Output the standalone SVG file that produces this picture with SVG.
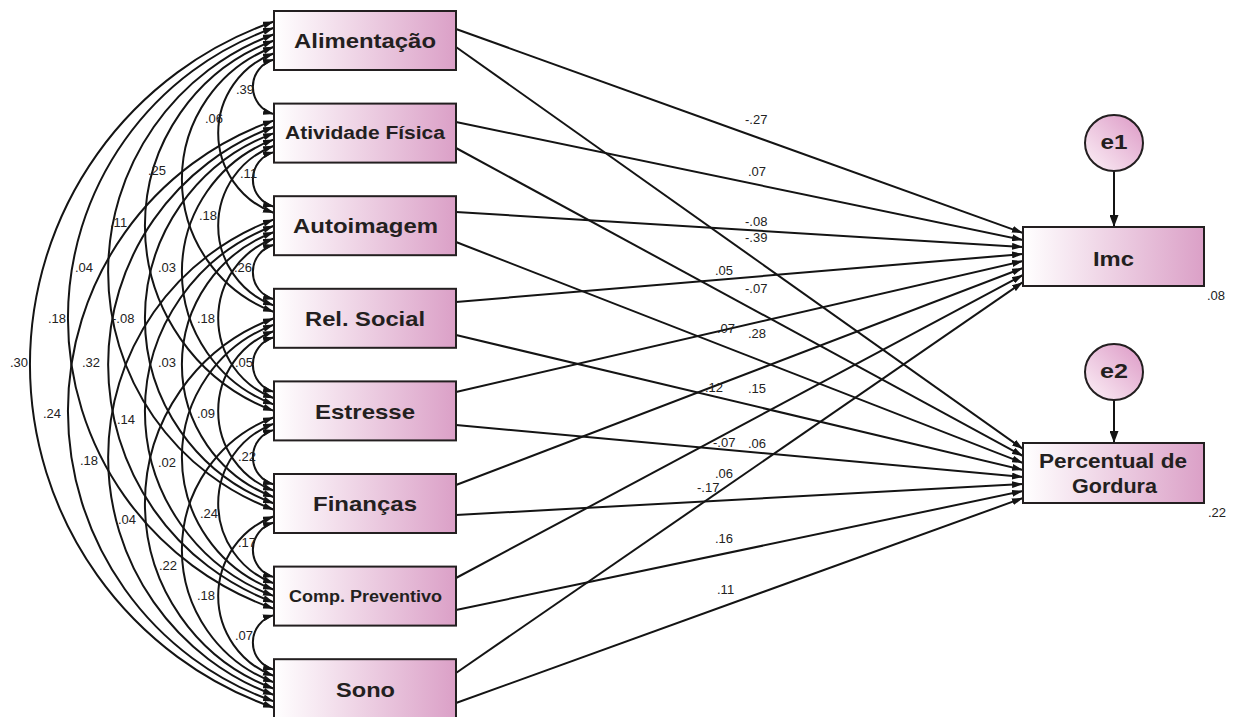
<svg xmlns="http://www.w3.org/2000/svg" width="1240" height="717" viewBox="0 0 1240 717">
<defs>
<linearGradient id="boxg" x1="0" y1="0" x2="1" y2="0">
<stop offset="0" stop-color="#ffffff"/>
<stop offset="1" stop-color="#dba0c7"/>
</linearGradient>
<linearGradient id="elg" x1="1" y1="0" x2="0" y2="1">
<stop offset="0" stop-color="#dc98c5"/>
<stop offset="1" stop-color="#fcf1f7"/>
</linearGradient>
<marker id="ah" viewBox="0 0 11 7" refX="11" refY="3.5" markerWidth="11" markerHeight="7" markerUnits="userSpaceOnUse" orient="auto-start-reverse">
<path d="M0,0 L11,3.5 L0,7 z" fill="#141414"/>
</marker>
<marker id="ah2" viewBox="0 0 12 9" refX="12" refY="4.5" markerWidth="12" markerHeight="9" markerUnits="userSpaceOnUse" orient="auto">
<path d="M0,0 L12,4.5 L0,9 z" fill="#141414"/>
</marker>
<style>
.box{fill:url(#boxg);stroke:#231f20;stroke-width:2}
.el{fill:url(#elg);stroke:#231f20;stroke-width:2}
.lbl{font-family:"Liberation Sans",Arial,sans-serif;font-weight:bold;fill:#231f20;text-anchor:middle}
.cov{fill:none;stroke:#141414;stroke-width:2;marker-start:url(#ah);marker-end:url(#ah)}
.pth{fill:none;stroke:#141414;stroke-width:2;marker-end:url(#ah)}
.num{font-family:"Liberation Sans",Arial,sans-serif;font-size:13px;fill:#222}
</style>
</defs>
<rect width="1240" height="717" fill="#ffffff"/>
<g id="connectors">
<path class="cov" d="M274 59.5 A28.2 28.2 0 0 0 274 114.1"/>
<path class="cov" d="M274 152.1 A28.2 28.2 0 0 0 274 206.7"/>
<path class="cov" d="M274 244.7 A28.2 28.2 0 0 0 274 299.3"/>
<path class="cov" d="M274 337.3 A28.2 28.2 0 0 0 274 391.9"/>
<path class="cov" d="M274 429.9 A28.2 28.2 0 0 0 274 484.5"/>
<path class="cov" d="M274 522.5 A28.2 28.2 0 0 0 274 577.1"/>
<path class="cov" d="M274 615.1 A28.2 28.2 0 0 0 274 669.7"/>
<path class="cov" d="M274 53.2 A85.1 85.1 0 0 0 274 213"/>
<path class="cov" d="M274 145.8 A85.1 85.1 0 0 0 274 305.6"/>
<path class="cov" d="M274 238.4 A85.1 85.1 0 0 0 274 398.2"/>
<path class="cov" d="M274 331 A85.1 85.1 0 0 0 274 490.8"/>
<path class="cov" d="M274 423.6 A85.1 85.1 0 0 0 274 583.4"/>
<path class="cov" d="M274 516.2 A85.1 85.1 0 0 0 274 676"/>
<path class="cov" d="M274 46.8 A141.5 141.5 0 0 0 274 312"/>
<path class="cov" d="M274 139.4 A141.5 141.5 0 0 0 274 404.6"/>
<path class="cov" d="M274 232 A141.5 141.5 0 0 0 274 497.2"/>
<path class="cov" d="M274 324.6 A141.5 141.5 0 0 0 274 589.8"/>
<path class="cov" d="M274 417.2 A141.5 141.5 0 0 0 274 682.4"/>
<path class="cov" d="M274 40.5 A197.4 197.4 0 0 0 274 410.9"/>
<path class="cov" d="M274 133.1 A197.4 197.4 0 0 0 274 503.5"/>
<path class="cov" d="M274 225.7 A197.4 197.4 0 0 0 274 596.1"/>
<path class="cov" d="M274 318.3 A197.4 197.4 0 0 0 274 688.7"/>
<path class="cov" d="M274 34.2 A253.4 253.4 0 0 0 274 509.8"/>
<path class="cov" d="M274 126.8 A253.4 253.4 0 0 0 274 602.4"/>
<path class="cov" d="M274 219.4 A253.4 253.4 0 0 0 274 695"/>
<path class="cov" d="M274 27.8 A307.8 307.8 0 0 0 274 608.8"/>
<path class="cov" d="M274 120.4 A307.8 307.8 0 0 0 274 701.4"/>
<path class="cov" d="M274 21.5 A363.2 363.2 0 0 0 274 707.7"/>
<line class="pth" x1="456" y1="29" x2="1023" y2="233"/>
<line class="pth" x1="456" y1="47" x2="1023" y2="449"/>
<line class="pth" x1="456" y1="122" x2="1023" y2="240"/>
<line class="pth" x1="456" y1="148" x2="1023" y2="456"/>
<line class="pth" x1="456" y1="212" x2="1023" y2="247"/>
<line class="pth" x1="456" y1="242" x2="1023" y2="463"/>
<line class="pth" x1="456" y1="302" x2="1023" y2="254"/>
<line class="pth" x1="456" y1="335" x2="1023" y2="470"/>
<line class="pth" x1="456" y1="392" x2="1023" y2="261"/>
<line class="pth" x1="456" y1="425" x2="1023" y2="477"/>
<line class="pth" x1="456" y1="485" x2="1023" y2="268"/>
<line class="pth" x1="456" y1="515" x2="1023" y2="484"/>
<line class="pth" x1="456" y1="578" x2="1023" y2="275"/>
<line class="pth" x1="456" y1="610" x2="1023" y2="491"/>
<line class="pth" x1="456" y1="673" x2="1023" y2="282"/>
<line class="pth" x1="456" y1="703" x2="1023" y2="498"/>
<line x1="1114" y1="171" x2="1114" y2="227" stroke="#141414" stroke-width="2" marker-end="url(#ah2)"/>
<line x1="1114" y1="400" x2="1114" y2="443" stroke="#141414" stroke-width="2" marker-end="url(#ah2)"/>
<text class="num" x="236" y="94">.39</text>
<text class="num" x="205" y="123">.06</text>
<text class="num" x="148" y="175">.25</text>
<text class="num" x="240" y="178">.11</text>
<text class="num" x="199" y="220">.18</text>
<text class="num" x="110" y="227">.11</text>
<text class="num" x="75" y="272">.04</text>
<text class="num" x="158" y="272">.03</text>
<text class="num" x="234" y="272">.26</text>
<text class="num" x="48" y="323">.18</text>
<text class="num" x="112" y="323">-.08</text>
<text class="num" x="197" y="323">.18</text>
<text class="num" x="10" y="367">.30</text>
<text class="num" x="82" y="367">.32</text>
<text class="num" x="158" y="367">.03</text>
<text class="num" x="235" y="367">.05</text>
<text class="num" x="43" y="418">.24</text>
<text class="num" x="117" y="424">.14</text>
<text class="num" x="197" y="418">.09</text>
<text class="num" x="80" y="465">.18</text>
<text class="num" x="158" y="467">.02</text>
<text class="num" x="238" y="461">.22</text>
<text class="num" x="118" y="524">.04</text>
<text class="num" x="200" y="518">.24</text>
<text class="num" x="238" y="547">.17</text>
<text class="num" x="159" y="570">.22</text>
<text class="num" x="197" y="600">.18</text>
<text class="num" x="235" y="640">.07</text>
<text class="num" x="745" y="124">-.27</text>
<text class="num" x="748" y="176">.07</text>
<text class="num" x="745" y="226">-.08</text>
<text class="num" x="745" y="242">-.39</text>
<text class="num" x="715" y="275">.05</text>
<text class="num" x="745" y="293">-.07</text>
<text class="num" x="717" y="333">.07</text>
<text class="num" x="748" y="338">.28</text>
<text class="num" x="705" y="392">.12</text>
<text class="num" x="748" y="393">.15</text>
<text class="num" x="713" y="447">-.07</text>
<text class="num" x="748" y="448">.06</text>
<text class="num" x="715" y="478">.06</text>
<text class="num" x="697" y="492">-.17</text>
<text class="num" x="715" y="543">.16</text>
<text class="num" x="717" y="594">.11</text>
<text class="num" x="1207" y="300">.08</text>
<text class="num" x="1208" y="517">.22</text>
</g>
<g id="alimentacao">
<rect class="box" x="274" y="11" width="182" height="59"/>
<text class="lbl" x="365" y="48" font-size="20.5" textLength="142" lengthAdjust="spacingAndGlyphs">Alimentação</text>
</g>
<g id="atividade-fisica">
<rect class="box" x="274" y="103.6" width="182" height="59"/>
<text class="lbl" x="365" y="139" font-size="17.5" textLength="160" lengthAdjust="spacingAndGlyphs">Atividade Física</text>
</g>
<g id="autoimagem">
<rect class="box" x="274" y="196.2" width="182" height="59"/>
<text class="lbl" x="365.5" y="232.5" font-size="20.5" textLength="145" lengthAdjust="spacingAndGlyphs">Autoimagem</text>
</g>
<g id="rel-social">
<rect class="box" x="274" y="288.8" width="182" height="59"/>
<text class="lbl" x="365" y="326" font-size="20.5" textLength="120" lengthAdjust="spacingAndGlyphs">Rel. Social</text>
</g>
<g id="estresse">
<rect class="box" x="274" y="381.4" width="182" height="59"/>
<text class="lbl" x="365" y="419" font-size="20.5" textLength="100" lengthAdjust="spacingAndGlyphs">Estresse</text>
</g>
<g id="financas">
<rect class="box" x="274" y="474" width="182" height="59"/>
<text class="lbl" x="365" y="510.5" font-size="20.5" textLength="104" lengthAdjust="spacingAndGlyphs">Finanças</text>
</g>
<g id="comp-preventivo">
<rect class="box" x="274" y="566.6" width="182" height="59"/>
<text class="lbl" x="365.5" y="602" font-size="16" textLength="153" lengthAdjust="spacingAndGlyphs">Comp. Preventivo</text>
</g>
<g id="sono">
<rect class="box" x="274" y="659.2" width="182" height="59"/>
<text class="lbl" x="365.5" y="697" font-size="20.5" textLength="59" lengthAdjust="spacingAndGlyphs">Sono</text>
</g>
<g id="imc">
<rect class="box" x="1023" y="227" width="181" height="59"/>
<text class="lbl" x="1113.5" y="266" font-size="20.5" textLength="41" lengthAdjust="spacingAndGlyphs">Imc</text>
</g>
<g id="percentual-gordura">
<rect class="box" x="1023" y="443" width="181" height="60"/>
<text class="lbl" x="1113" y="468" font-size="20" textLength="148" lengthAdjust="spacingAndGlyphs">Percentual de</text>
<text class="lbl" x="1114.5" y="493" font-size="20" textLength="85" lengthAdjust="spacingAndGlyphs">Gordura</text>
</g>
<g id="e1">
<ellipse class="el" cx="1114" cy="143" rx="29" ry="28"/>
<text class="lbl" x="1114" y="149" font-size="20" textLength="27" lengthAdjust="spacingAndGlyphs">e1</text>
</g>
<g id="e2">
<ellipse class="el" cx="1114" cy="372" rx="29" ry="28"/>
<text class="lbl" x="1114" y="378" font-size="20" textLength="28" lengthAdjust="spacingAndGlyphs">e2</text>
</g>
</svg>
